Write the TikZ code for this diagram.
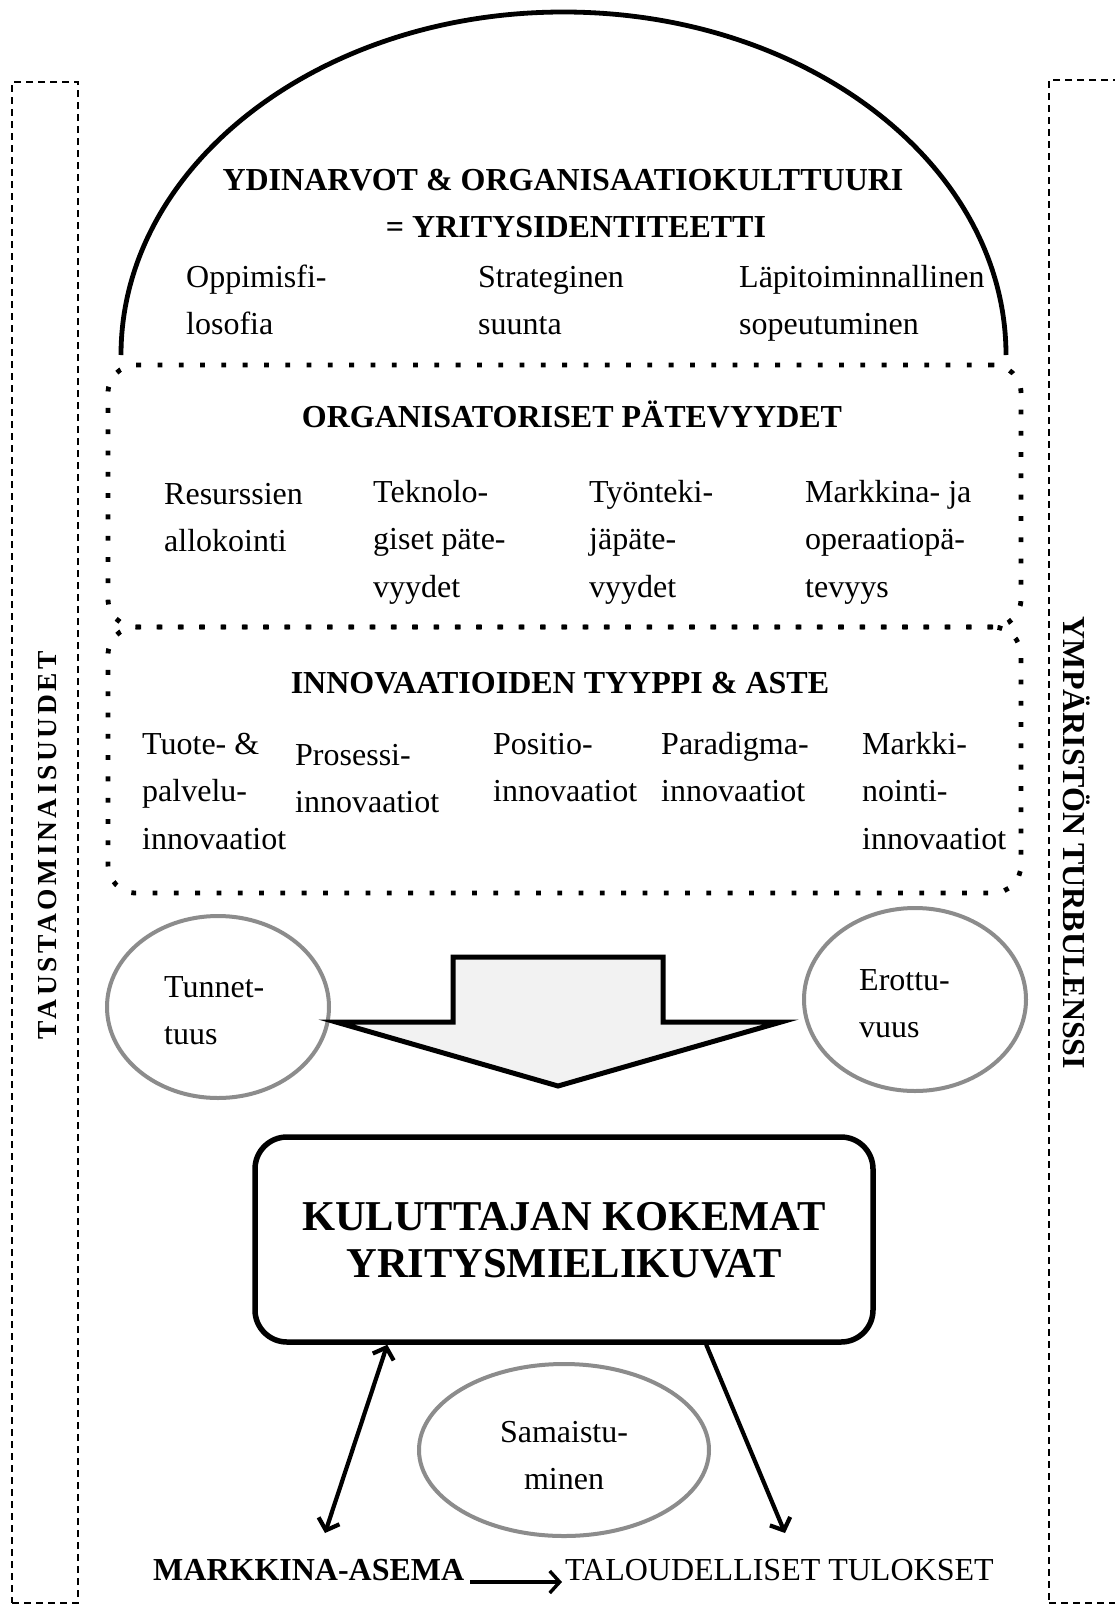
\documentclass[tikz,border=0pt]{standalone}
\usepackage{fontspec}
\setmainfont{Liberation Serif}
\usetikzlibrary{arrows.meta,shapes.geometric,calc}
\newcommand\bodyf{\fontsize{32}{47.5}\selectfont}
\newcommand\bigf{\fontsize{42.5}{47}\selectfont\bfseries}
\newcommand\mlines[2][l]{\begin{tabular}[t]{@{}#1@{}}#2\end{tabular}}
\begin{document}
\begin{tikzpicture}[x=1pt,y=-1pt,
  txt/.style={inner sep=0pt, anchor=base west, font=\bodyf},
  ctxt/.style={inner sep=0pt, anchor=base, font=\bodyf},
  sidebox/.style={draw, dash pattern=on 7pt off 5pt, line width=1.8pt, inner sep=0pt},
  dotbox/.style={draw, line width=4.8pt, dash pattern=on 4.8pt off 16.5pt, rounded corners=28pt, minimum width=913pt, inner sep=0pt},
  oval/.style={draw=black!45, line width=4pt, ellipse, inner sep=0pt},
  barb/.tip={Straight Barb[length=10pt,width=22pt]}
]
\fill[white] (0,0) rectangle (1115,1606);
\useasboundingbox (0,0) rectangle (1115,1606);
\clip (0,0) rectangle (1115,1606);

% side boxes
\node[sidebox, minimum width=66pt, minimum height=1521pt] (leftbox) at (45,842.5) {};
\node[sidebox, minimum width=90pt, minimum height=1523pt] (rightbox) at (1094,841.5) {};
\node[rotate=90, inner sep=0pt, font=\fontsize{27.5}{30}\selectfont\bfseries\addfontfeatures{LetterSpace=13}] (tausta) at (48,845) {TAUSTAOMINAISUUDET};
\node[rotate=-90, inner sep=0pt, font=\fontsize{32}{34}\selectfont\bfseries] (ympar) at (1077,843) {YMPÄRISTÖN TURBULENSSI};

% arch
\draw[line width=4.8pt] (121,355) arc[start angle=180, end angle=360, x radius=442.5, y radius=343];
\node[ctxt, font=\bodyf\bfseries] (ydin) at (563,190) {YDINARVOT \& ORGANISAATIOKULTTUURI};
\node[ctxt, font=\bodyf\bfseries] (yrid) at (576,237) {= YRITYSIDENTITEETTI};
\node[txt] (opp) at (186,287) {\mlines{Oppimisfi-\\losofia}};
\node[txt] (strat) at (478,287) {\mlines{Strateginen\\suunta}};
\node[txt] (lapi) at (739,287) {\mlines{Läpitoiminnallinen\\sopeutuminen}};

% dotted boxes
\node[dotbox, minimum height=262pt] (orgbox) at (564.5,496) {};
\node[dotbox, minimum height=266pt] (innbox) at (564.5,760) {};

\node[ctxt, font=\bodyf\bfseries] (orgt) at (572,427) {ORGANISATORISET PÄTEVYYDET};
\node[txt] (res) at (164,504) {\mlines{Resurssien\\allokointi}};
\node[txt] (tek) at (373,502) {\mlines{Teknolo-\\giset päte-\\vyydet}};
\node[txt] (tyo) at (589,502) {\mlines{Työnteki-\\jäpäte-\\vyydet}};
\node[txt] (mkj) at (805,502) {\mlines{Markkina- ja\\operaatiopä-\\tevyys}};

\node[ctxt, font=\bodyf\bfseries] (innt) at (560,693) {INNOVAATIOIDEN TYYPPI \& ASTE};
\node[txt] (tuote) at (142,754) {\mlines{Tuote- \&\\palvelu-\\innovaatiot}};
\node[txt] (pros) at (295,765) {\mlines{Prosessi-\\innovaatiot}};
\node[txt] (posi) at (493,754) {\mlines{Positio-\\innovaatiot}};
\node[txt] (para) at (661,754) {\mlines{Paradigma-\\innovaatiot}};
\node[txt] (mkin) at (862,754) {\mlines{Markki-\\nointi-\\innovaatiot}};

% ovals
\node[oval, minimum width=222pt, minimum height=182pt] (tunov) at (218,1007) {};
\node[txt] (tun) at (164,997) {\mlines{Tunnet-\\tuus}};
\node[oval, minimum width=222pt, minimum height=183pt] (erov) at (915,999.5) {};
\node[txt] (ero) at (859,990) {\mlines{Erottu-\\vuus}};

% block arrow
\draw[line width=5pt, fill=black!5] (453,957) -- (663,957) -- (663,1022) -- (781,1022) -- (558,1086) -- (336,1022) -- (453,1022) -- cycle;

% big box
\node[draw, line width=5.5pt, rounded corners=32pt, minimum width=618pt, minimum height=205pt, inner sep=0pt] (bigbox) at (564,1239.5) {};
\node[inner sep=0pt, anchor=base, font=\bigf] (bigt) at (564,1230) {\mlines[c]{KULUTTAJAN KOKEMAT\\YRITYSMIELIKUVAT}};

% samaistuminen
\node[oval, minimum width=290pt, minimum height=172pt] (samov) at (564,1450) {};
\node[ctxt] (sam) at (564,1442) {\mlines[c]{Samaistu-\\minen}};

% bottom texts
\node[txt, font=\bodyf\bfseries] (mark) at (153,1580) {MARKKINA-ASEMA};
\node[txt] (talo) at (565,1580) {TALOUDELLISET TULOKSET};
\coordinate (mapos) at (325,1533);
\coordinate (tapos) at (785,1533);

% connectors
\draw[line width=4.2pt, line cap=round, barb-barb] ($(bigbox.south west)+(135,0)$) -- (mapos);
\draw[line width=4.2pt, line cap=round, -barb] ($(bigbox.south west)+(454,0)$) -- (tapos);
\draw[line width=3.4pt, -barb] ($(mark.base east)+(6,2)$) -- ($(talo.base west)+(-3,2)$);
\end{tikzpicture}
\end{document}
